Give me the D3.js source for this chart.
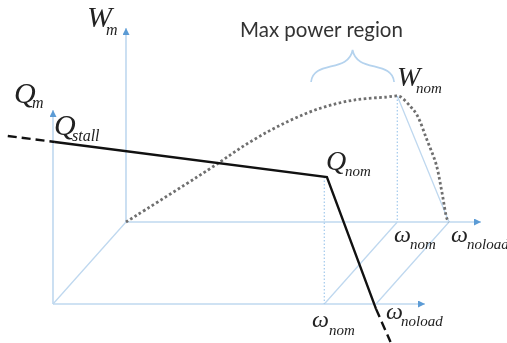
<!DOCTYPE html>
<html>
<head>
<meta charset="utf-8">
<script src="https://cdnjs.cloudflare.com/ajax/libs/d3/7.8.5/d3.min.js"></script>
<style>
  html, body { margin: 0; padding: 0; background: #fff; }
  svg { display: block; filter: blur(0.35px); }
  .sym { font-family: "Liberation Serif", serif; font-style: italic; fill: #222; }
</style>
</head>
<body>
<script>
// speed is a fraction of no-load speed, torque of stall torque, power of nominal power
const omegaNom = 0.84;
const omegaNoload = 1;
const torqueSpeed = [-0.14, 0.006, 0.848, 1, 1.045];
const torqueValues = [1.037, 1, 0.784, -0.03, -0.235];
const powerSpeed = [0, 0.254, 0.384, 0.498, 0.604, 0.706, 0.808, 0.84, 0.851, 0.882, 0.901, 0.932, 0.96, 0.978, 0.994, 1];
const powerValues = [0, 0.413, 0.635, 0.794, 0.905, 0.968, 0.992, 1, 0.992, 0.913, 0.849, 0.65, 0.46, 0.238, 0.024, 0];
const regionSpeed = [0.573, 0.83];

const width = 507, height = 343;

const xFront = d3.scaleLinear().domain([0, 1]).range([53, 376]);
const xBack = d3.scaleLinear().domain([0, 1]).range([126, 449]);
const yTorque = d3.scaleLinear().domain([0, 1]).range([304, 142]);
const yPower = d3.scaleLinear().domain([0, 1]).range([222, 96]);

const axisBlue = '#bfd8ef', arrowBlue = '#5b9bd5', dotBlue = '#a9cdee';

const svg = d3.select('body').append('svg')
  .attr('width', width)
  .attr('height', height);

svg.append('defs').append('marker')
  .attr('id', 'arrow')
  .attr('markerUnits', 'userSpaceOnUse')
  .attr('markerWidth', 8).attr('markerHeight', 8)
  .attr('refX', 7).attr('refY', 3.5)
  .attr('orient', 'auto')
  .append('path')
  .attr('d', 'M0,0L7,3.5L0,7Z')
  .attr('fill', arrowBlue);

function seg(x1, y1, x2, y2) {
  return svg.append('line')
    .attr('x1', x1).attr('y1', y1)
    .attr('x2', x2).attr('y2', y2)
    .attr('stroke', axisBlue)
    .attr('stroke-width', 1.3);
}

// axes
seg(xFront(0), yTorque(0), xFront(0), 110).attr('marker-end', 'url(#arrow)').attr('stroke-width', 1.6);
seg(xBack(0), yPower(0), xBack(0), 28).attr('marker-end', 'url(#arrow)').attr('stroke-width', 1.6);
seg(xFront(0), yTorque(0), 425, yTorque(0)).attr('marker-end', 'url(#arrow)').attr('stroke-width', 1.6);
seg(xBack(0), yPower(0), 481, yPower(0)).attr('marker-end', 'url(#arrow)').attr('stroke-width', 1.6);

// floor lines joining the two planes
seg(xFront(0), yTorque(0), xBack(0), yPower(0));
seg(xFront(omegaNom), yTorque(0), xBack(omegaNom), yPower(0));
seg(xFront(omegaNoload), yTorque(0), xBack(omegaNoload), yPower(0));

// drop lines
seg(xBack(omegaNom), yPower(1), xBack(omegaNoload), yPower(0));
seg(xBack(omegaNom), yPower(1), xBack(omegaNom), yPower(0))
  .attr('stroke', dotBlue).attr('stroke-dasharray', '1.5 2');
seg(xFront(omegaNom), yTorque(0.784), xFront(omegaNom), yTorque(0))
  .attr('stroke', dotBlue).attr('stroke-dasharray', '1.5 2');

// power curve
const powerLine = d3.line()
  .x((d, i) => xBack(powerSpeed[i]))
  .y((d, i) => yPower(d))
  .curve(d3.curveCatmullRom.alpha(0.5));

svg.append('path')
  .attr('d', powerLine(powerValues))
  .attr('fill', 'none')
  .attr('stroke', '#6f6f6f')
  .attr('stroke-width', 2.8)
  .attr('stroke-dasharray', '2.6 2.5');

// torque line, dashed outside the working range
const torqueLine = d3.line()
  .x(d => xFront(d[0]))
  .y(d => yTorque(d[1]));
const torquePts = d3.zip(torqueSpeed, torqueValues);

svg.append('path')
  .attr('d', torqueLine(torquePts.slice(1, 4)))
  .attr('fill', 'none')
  .attr('stroke', '#111')
  .attr('stroke-width', 2.4)
  .attr('stroke-linejoin', 'miter');

[torquePts.slice(0, 2), torquePts.slice(3, 5)].forEach(p => {
  svg.append('path')
    .attr('d', torqueLine(p))
    .attr('fill', 'none')
    .attr('stroke', '#111')
    .attr('stroke-width', 2.4)
    .attr('stroke-dasharray', '9 5');
});

// brace over the max power region
const bl = xBack(regionSpeed[0]), br = xBack(regionSpeed[1]), bm = (bl + br) / 2;
const by = yPower(1) - 14;
const brace = d3.path();
brace.moveTo(bl, by);
brace.bezierCurveTo(bl + 2, by - 22, bm - 4, by - 9, bm, by - 32);
brace.bezierCurveTo(bm + 4, by - 9, br - 2, by - 22, br, by);
svg.append('path')
  .attr('d', brace.toString())
  .attr('fill', 'none')
  .attr('stroke', '#b5d3ee')
  .attr('stroke-width', 1.7);

svg.append('text')
  .attr('x', 240).attr('y', 37)
  .attr('font-family', 'Lato')
  .attr('font-size', 20.5)
  .attr('fill', '#333')
  .text('Max power region');

// symbol labels, big letter then subscript
function label(x, y, main, sub, sx, sy, size, subSize) {
  svg.append('text').attr('class', 'sym')
    .attr('x', x).attr('y', y)
    .attr('font-size', size)
    .text(main);
  svg.append('text').attr('class', 'sym')
    .attr('x', sx).attr('y', sy)
    .attr('font-size', subSize)
    .text(sub);
}

label(87, 27, 'W', 'm', 106, 35, 30, 16);
label(14, 103, 'Q', 'm', 32, 108, 30, 16);
label(54, 135, 'Q', 'stall', 72, 141, 30, 16);
label(397, 86, 'W', 'nom', 416, 93, 28, 15);
label(326, 170, 'Q', 'nom', 345, 176, 28, 15);
label(394, 242, 'ω', 'nom', 410, 249, 24, 15);
label(451, 242, 'ω', 'noload', 467, 249, 24, 15);
label(312, 327, 'ω', 'nom', 329, 335, 24, 15);
label(386, 319, 'ω', 'noload', 401, 326, 24, 15);
</script>
</body>
</html>
